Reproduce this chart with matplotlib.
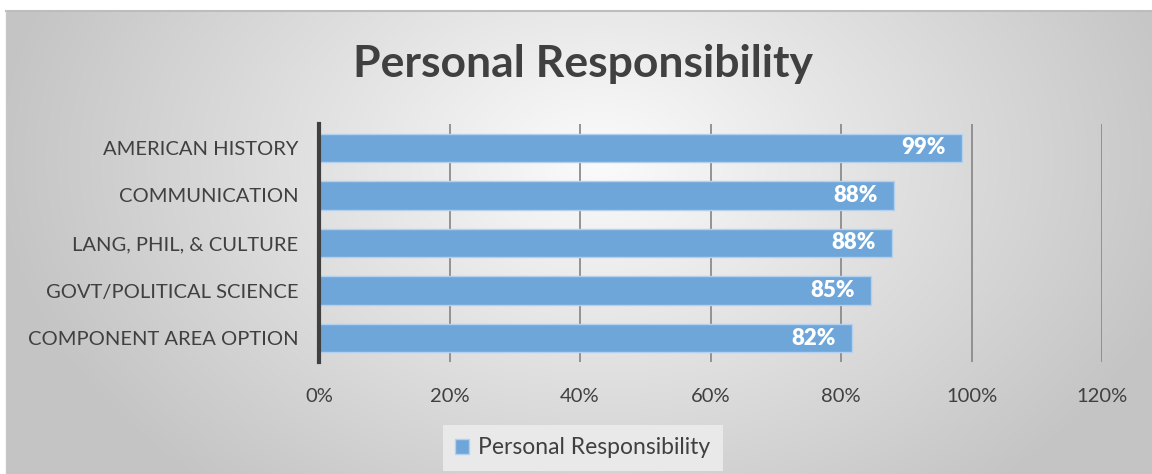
import numpy as np
import matplotlib
matplotlib.use("Agg")
import matplotlib.pyplot as plt
from matplotlib.ticker import PercentFormatter

plt.rcParams['font.family'] = ['Lato', 'DejaVu Sans']

categories = ["AMERICAN HISTORY", "COMMUNICATION", "LANG, PHIL, & CULTURE",
              "GOVT/POLITICAL SCIENCE", "COMPONENT AREA OPTION"]
values = [0.986, 0.881, 0.878, 0.846, 0.817]
series_name = "Personal Responsibility"
xticks = [0, 0.2, 0.4, 0.6, 0.8, 1.0, 1.2]

W, H = 1152, 474
fig = plt.figure(figsize=(W / 100, H / 100), dpi=100)
fig.patch.set_facecolor("white")

# chart-area background: radial grey gradient, light in the middle
bg = fig.add_axes([6 / W, 0, 1 - 6 / W, 1 - 11 / H])
bg.set_axis_off()
ny, nx = 240, 600
yy, xx = np.mgrid[0:ny, 0:nx]
px = 6 + xx / (nx - 1) * (W - 6)
py = 11 + yy / (ny - 1) * (H - 11)
d = np.sqrt(((px - 600) / 620) ** 2 + ((py - 160) / 440) ** 2)
shade = np.clip(0.985 - 0.22 * d, 0.77, 1.0)
bg.imshow(np.dstack([shade] * 3), extent=[0, 1, 0, 1], aspect="auto", origin="upper")
fig.add_artist(plt.Line2D([6 / W, 1], [1 - 11 / H, 1 - 11 / H], color="#bdbdbd", lw=1.5,
                          transform=fig.transFigure))
fig.add_artist(plt.Line2D([6 / W, 6 / W], [0, 1 - 11 / H], color="#c8c8c8", lw=1,
                          transform=fig.transFigure))

ax = fig.add_axes([319 / W, 1 - 362 / H, (1102 - 319) / W, (362 - 124) / H])
ax.patch.set_alpha(0)
y = np.arange(len(categories))
bars = ax.barh(y, values, height=0.6, color="#6fa6d9", edgecolor="#b3d0ee", linewidth=1, zorder=3)
for b, v in zip(bars, values):
    ax.text(v - 0.025, b.get_y() + b.get_height() / 2, f"{v:.0%}", ha="right", va="center",
            color="white", fontsize=16, fontweight="heavy", zorder=4)

ax.set_xlim(0, 1.2)
ax.set_ylim(len(categories) - 0.5, -0.5)
ax.set_yticks(y)
ax.set_yticklabels(categories)
ax.set_xticks(xticks)
ax.xaxis.set_major_formatter(PercentFormatter(1.0, decimals=0))
ax.tick_params(axis="both", length=0, labelsize=14.5, colors="#404040")
ax.tick_params(axis="x", pad=19)
ax.tick_params(axis="y", pad=15)
ax.grid(axis="x", color="#8c8c8c", lw=1.3, zorder=1)
for s in ["top", "right", "bottom"]:
    ax.spines[s].set_visible(False)
ax.spines["left"].set_color("#404040")
ax.spines["left"].set_linewidth(3)
ax.spines["left"].set_zorder(5)

fig.text(583 / W, 1 - 64 / H, "Personal Responsibility", ha="center", va="center",
         fontsize=32, fontweight="bold", color="#404040")

leg = ax.legend([bars], [series_name], loc="center", bbox_to_anchor=(583 / W, 1 - 448 / H),
                bbox_transform=fig.transFigure, frameon=True, fontsize=16.5,
                handlelength=0.6, handleheight=0.6, handletextpad=0.4,
                borderpad=0.55, borderaxespad=0, fancybox=False)
leg.get_frame().set_facecolor("#e9e9e9")
leg.get_frame().set_edgecolor("none")
leg.get_frame().set_alpha(1)
for t in leg.get_texts():
    t.set_color("#404040")

fig.savefig("out.png", dpi=100)
